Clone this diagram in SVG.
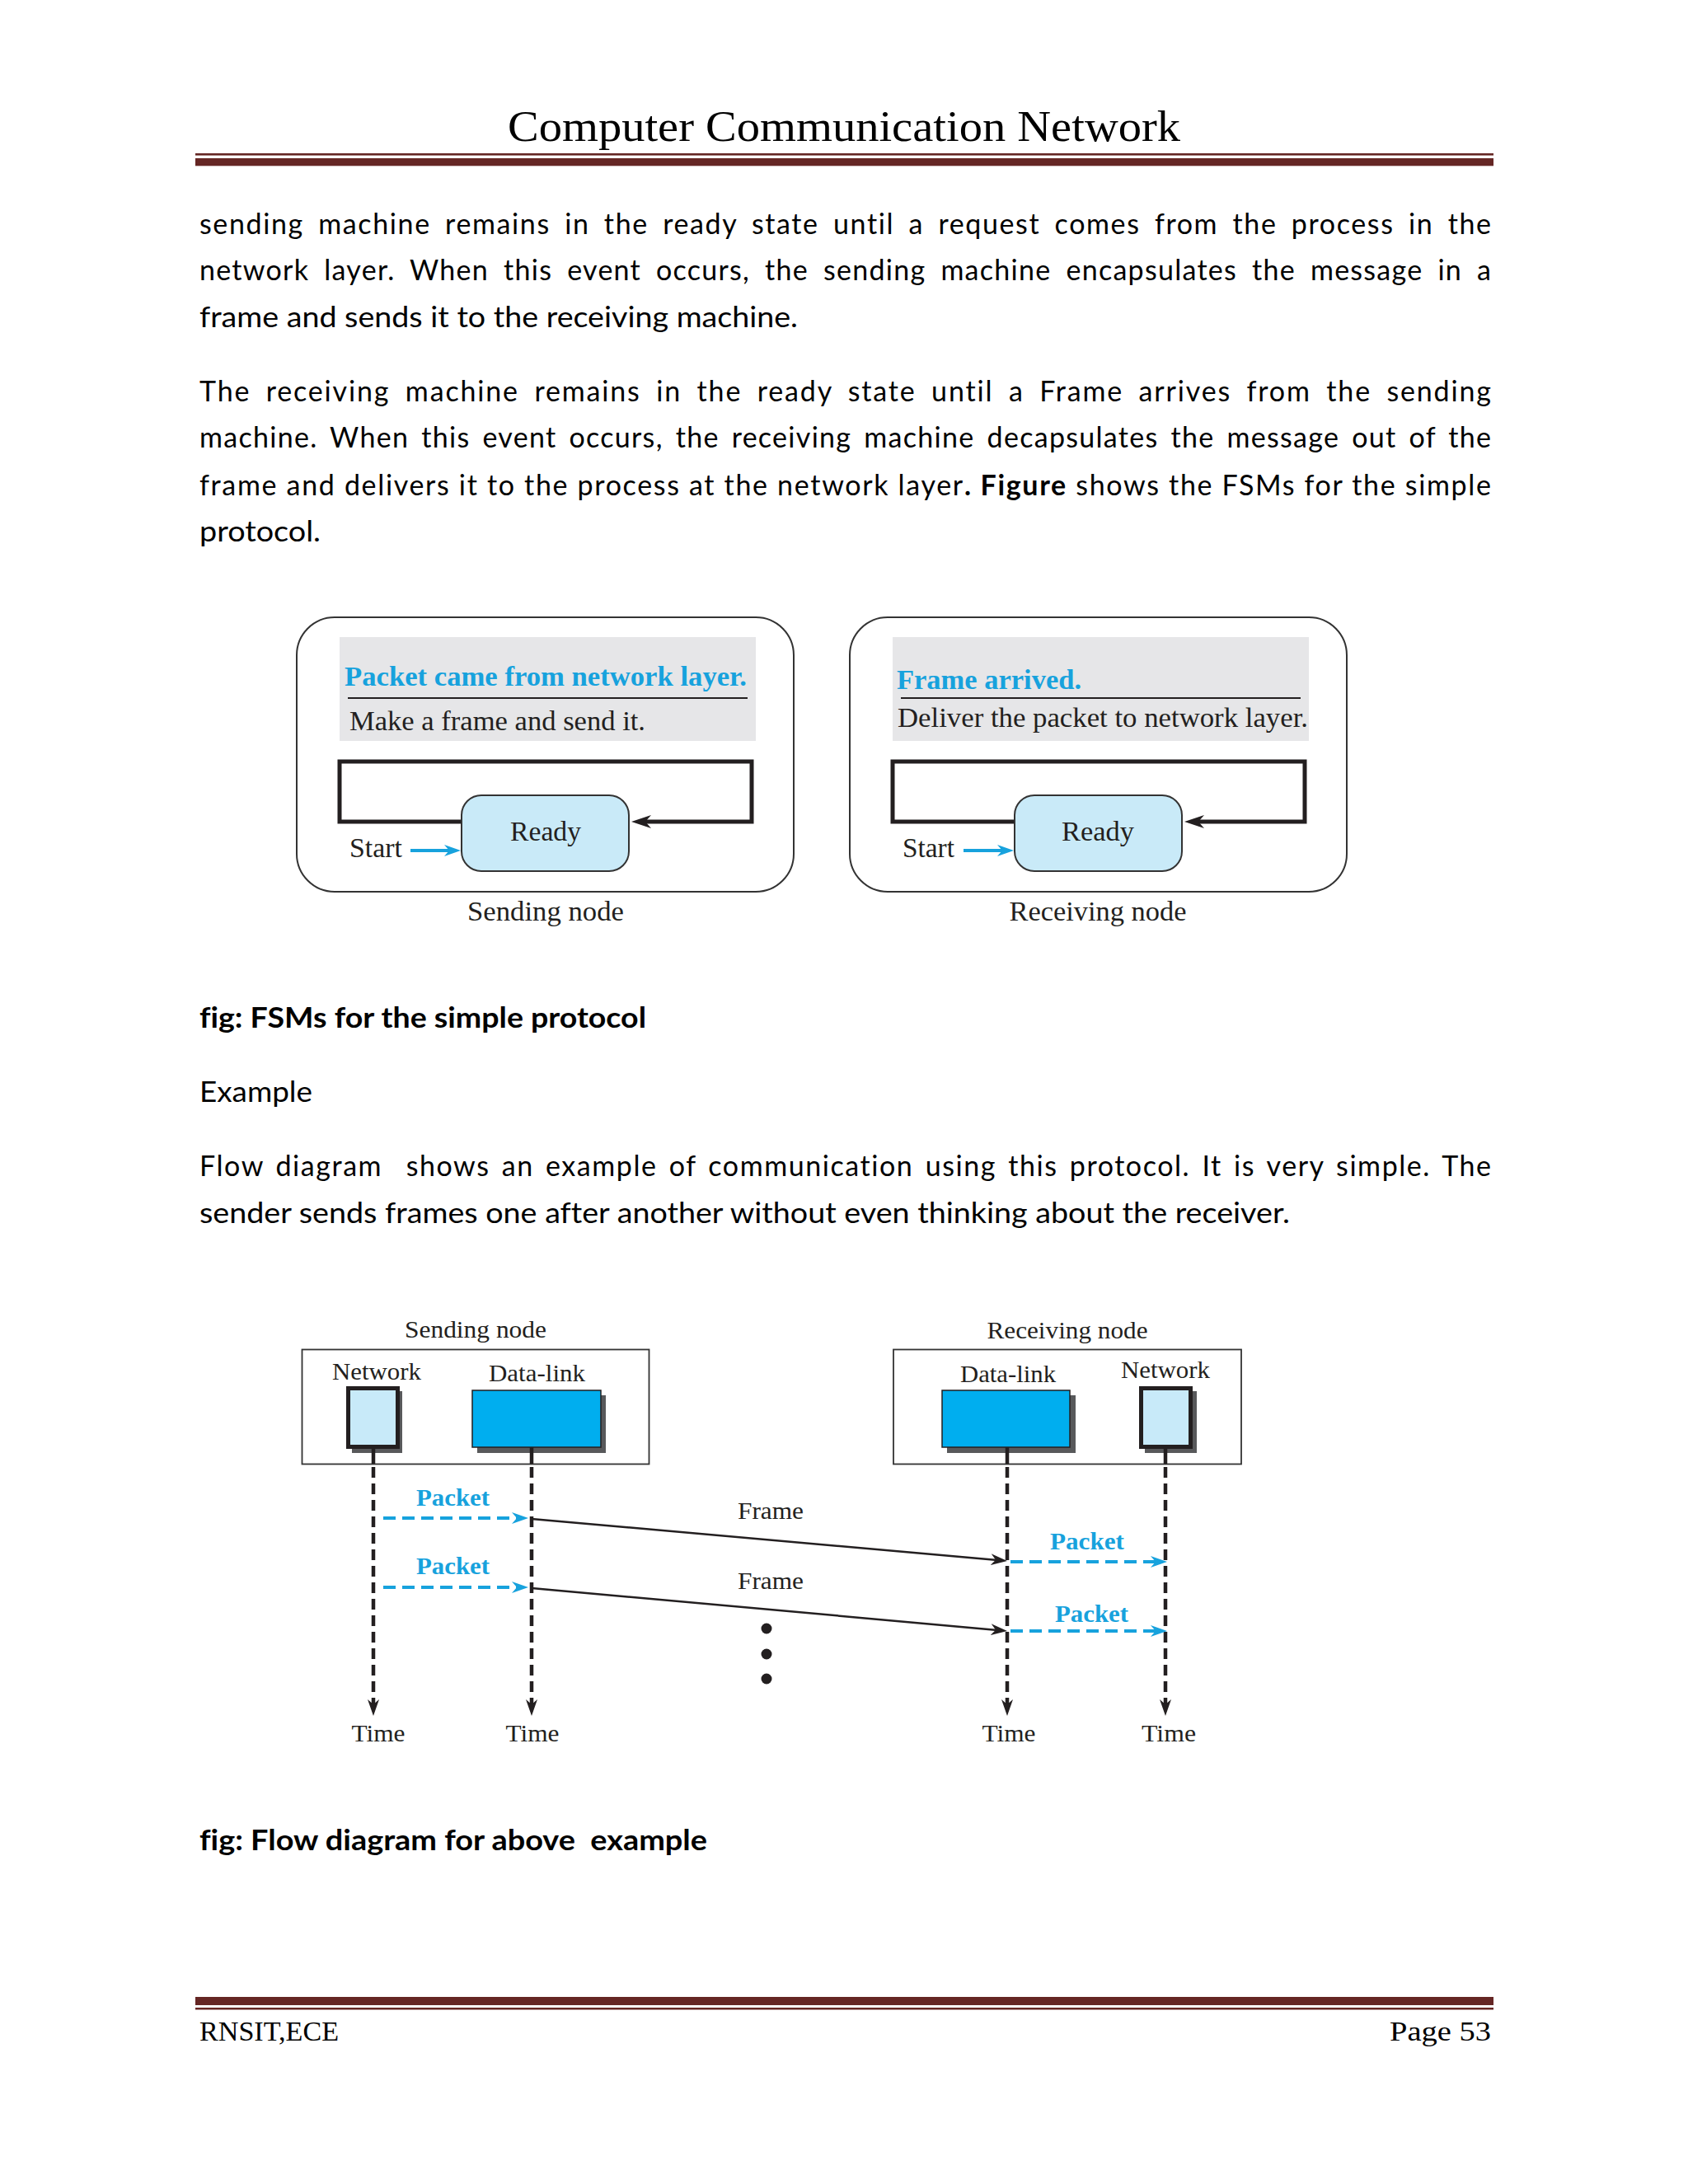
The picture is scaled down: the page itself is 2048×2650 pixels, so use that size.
<svg xmlns="http://www.w3.org/2000/svg" width="2048" height="2650" viewBox="0 0 2048 2650">
<style>
.body{font-family:Lato,"Liberation Sans",sans-serif;font-size:34px;fill:#000;font-variant-ligatures:none;font-feature-settings:"liga" 0}
.b{font-weight:700}
.serif{font-family:"Liberation Serif","Times New Roman",serif;fill:#000}
.fig{font-family:"Liberation Serif","Times New Roman",serif;fill:#231f20}
.fsm{font-size:33px}
.flow{font-size:30px}
.blue{fill:#17a2dd;font-weight:700}
.rule{fill:#652624}
.box{fill:none;stroke:#333;stroke-width:1.8}
.shadow{fill:#58595b}
.net{fill:#c8eaf9;stroke:#231f20;stroke-width:5}
.dl{fill:#00aeef;stroke:#231f20;stroke-width:1.5}
.life{stroke:#231f20;stroke-width:4.5;fill:none}
.dash{stroke-dasharray:13 7}
.pkt{stroke:#17a2dd;stroke-width:4;fill:none;stroke-dasharray:15 8}
.frm{stroke:#231f20;stroke-width:2.5;fill:none}
</style>
<defs>
<marker id="ahK" markerUnits="userSpaceOnUse" viewBox="0 0 20 14" refX="8" refY="7" markerWidth="20" markerHeight="14" orient="auto"><path d="M0,0 L20,7 L0,14 L6,7 Z" fill="#231f20"/></marker>
<marker id="ahB" markerUnits="userSpaceOnUse" viewBox="0 0 20 14" refX="8" refY="7" markerWidth="20" markerHeight="14" orient="auto"><path d="M0,0 L20,7 L0,14 L6,7 Z" fill="#17a2dd"/></marker>
<marker id="ahL" markerUnits="userSpaceOnUse" viewBox="0 0 24 16" refX="9" refY="8" markerWidth="24" markerHeight="16" orient="auto"><path d="M0,0 L24,8 L0,16 L7,8 Z" fill="#231f20"/></marker>
</defs>
<rect width="2048" height="2650" fill="#fff"/>

<g id="header">
<text class="serif" x="1024" y="171" font-size="53" text-anchor="middle" textLength="816" lengthAdjust="spacingAndGlyphs">Computer Communication Network</text>
<rect class="rule" x="237" y="186" width="1575" height="2.6"/>
<rect class="rule" x="237" y="192" width="1575" height="9.3"/>
</g>

<g id="body-text" class="body">
<text x="242" y="284" word-spacing="7" textLength="1567" lengthAdjust="spacing">sending machine remains in the ready state until a request comes from the process in the</text>
<text x="242" y="340" word-spacing="8" textLength="1567" lengthAdjust="spacing">network layer. When this event occurs, the sending machine encapsulates the message in a</text>
<text x="242" y="397" textLength="726" lengthAdjust="spacingAndGlyphs">frame and sends it to the receiving machine.</text>
<text x="242" y="487" word-spacing="8" textLength="1567" lengthAdjust="spacing">The receiving machine remains in the ready state until a Frame arrives from the sending</text>
<text x="242" y="543" word-spacing="5" textLength="1567" lengthAdjust="spacing">machine. When this event occurs, the receiving machine decapsulates the message out of the</text>
<text x="242" y="601" textLength="1567" lengthAdjust="spacing">frame and delivers it to the process at the network layer<tspan class="b">. Figure</tspan> shows the FSMs for the simple</text>
<text x="242" y="657" textLength="147" lengthAdjust="spacingAndGlyphs">protocol.</text>
<text class="b" x="242" y="1247" textLength="542" lengthAdjust="spacingAndGlyphs">fig: FSMs for the simple protocol</text>
<text x="242" y="1337" textLength="137" lengthAdjust="spacingAndGlyphs">Example</text>
<text x="242" y="1427" word-spacing="4" textLength="1567" lengthAdjust="spacing" style="white-space:pre">Flow diagram  shows an example of communication using this protocol. It is very simple. The</text>
<text x="242" y="1484" textLength="1323" lengthAdjust="spacingAndGlyphs">sender sends frames one after another without even thinking about the receiver.</text>
<text class="b" x="242" y="2245" textLength="616" lengthAdjust="spacingAndGlyphs" style="white-space:pre">fig: Flow diagram for above  example</text>
</g>

<!-- FSM: sending node -->
<g id="fsm-sending">
<rect x="360" y="749" width="603" height="333" rx="46" fill="#fff" stroke="#333" stroke-width="2"/>
<text class="fig fsm" x="662" y="1117" text-anchor="middle" textLength="190" lengthAdjust="spacingAndGlyphs">Sending node</text>
</g>
<g id="fsm-sending-event">
<rect x="412" y="773" width="505" height="126" fill="#e6e6e8"/>
<text class="fig fsm blue" x="418" y="832" textLength="488" lengthAdjust="spacingAndGlyphs">Packet came from network layer.</text>
<line x1="422" y1="847" x2="907" y2="847" stroke="#231f20" stroke-width="2"/>
<text class="fig fsm" x="424" y="886" textLength="359" lengthAdjust="spacingAndGlyphs">Make a frame and send it.</text>
</g>

<!-- FSM: receiving node -->
<g id="fsm-receiving">
<rect x="1031" y="749" width="603" height="333" rx="46" fill="#fff" stroke="#333" stroke-width="2"/>
<text class="fig fsm" x="1332" y="1117" text-anchor="middle" textLength="215" lengthAdjust="spacingAndGlyphs">Receiving node</text>
</g>
<g id="fsm-receiving-event">
<rect x="1083" y="773" width="505" height="126" fill="#e6e6e8"/>
<text class="fig fsm blue" x="1088" y="836" textLength="224" lengthAdjust="spacingAndGlyphs">Frame arrived.</text>
<line x1="1093" y1="847" x2="1578" y2="847" stroke="#231f20" stroke-width="2"/>
<text class="fig fsm" x="1089" y="882" textLength="498" lengthAdjust="spacingAndGlyphs">Deliver the packet to network layer.</text>
</g>

<!-- FSM connectors -->
<g id="fsm-connectors">
<path d="M560,997 H412 V924 H912 V997 H781" fill="none" stroke="#231f20" stroke-width="5" marker-end="url(#ahL)"/>
<path d="M498,1032 H547" fill="none" stroke="#17a2dd" stroke-width="4" marker-end="url(#ahB)"/>
<path d="M1231,997 H1083 V924 H1583 V997 H1452" fill="none" stroke="#231f20" stroke-width="5" marker-end="url(#ahL)"/>
<path d="M1169,1032 H1218" fill="none" stroke="#17a2dd" stroke-width="4" marker-end="url(#ahB)"/>
</g>

<g id="ready-sending">
<rect x="560" y="965" width="203" height="92" rx="24" fill="#c9eaf8" stroke="#333" stroke-width="2"/>
<text class="fig fsm" x="662" y="1020" text-anchor="middle" textLength="86" lengthAdjust="spacingAndGlyphs">Ready</text>
</g>
<g id="start-sending">
<text class="fig fsm" x="424" y="1040" textLength="64" lengthAdjust="spacingAndGlyphs">Start</text>
</g>
<g id="ready-receiving">
<rect x="1231" y="965" width="203" height="92" rx="24" fill="#c9eaf8" stroke="#333" stroke-width="2"/>
<text class="fig fsm" x="1332" y="1020" text-anchor="middle" textLength="88" lengthAdjust="spacingAndGlyphs">Ready</text>
</g>
<g id="start-receiving">
<text class="fig fsm" x="1095" y="1040" textLength="63" lengthAdjust="spacingAndGlyphs">Start</text>
</g>

<!-- Flow diagram nodes -->
<g id="flow-sending-node">
<text class="fig flow" x="577" y="1623" text-anchor="middle" textLength="172" lengthAdjust="spacingAndGlyphs">Sending node</text>
<rect class="box" x="366.5" y="1637.5" width="421" height="139"/>
</g>
<g id="flow-sending-network">
<text class="fig flow" x="403" y="1674" textLength="108" lengthAdjust="spacingAndGlyphs">Network</text>
<rect class="shadow" x="427" y="1688" width="61" height="75"/>
<rect class="net" x="422.5" y="1684.5" width="60" height="71"/>
</g>
<g id="flow-sending-datalink">
<text class="fig flow" x="593" y="1676" textLength="117" lengthAdjust="spacingAndGlyphs">Data-link</text>
<rect class="shadow" x="579" y="1693" width="156" height="70"/>
<rect class="dl" x="573" y="1687" width="156" height="69"/>
</g>
<g id="flow-receiving-node">
<text class="fig flow" x="1295" y="1624" text-anchor="middle" textLength="195" lengthAdjust="spacingAndGlyphs">Receiving node</text>
<rect class="box" x="1084" y="1637.5" width="422" height="139"/>
</g>
<g id="flow-receiving-datalink">
<text class="fig flow" x="1165" y="1677" textLength="116" lengthAdjust="spacingAndGlyphs">Data-link</text>
<rect class="shadow" x="1149" y="1693" width="156" height="70"/>
<rect class="dl" x="1143" y="1687" width="155" height="69"/>
</g>
<g id="flow-receiving-network">
<text class="fig flow" x="1360" y="1672" textLength="108" lengthAdjust="spacingAndGlyphs">Network</text>
<rect class="shadow" x="1389" y="1688" width="63" height="75"/>
<rect class="net" x="1384.5" y="1684.5" width="60" height="71"/>
</g>

<!-- Flow connectors -->
<g id="flow-connectors">
<path class="life" d="M453,1758 V1776"/>
<path class="life" d="M645,1756 V1776"/>
<path class="life" d="M1222,1756 V1776"/>
<path class="life" d="M1414,1758 V1776"/>
<path class="life dash" d="M453,1780 V2070" marker-end="url(#ahK)"/>
<path class="life dash" d="M645,1780 V2070" marker-end="url(#ahK)"/>
<path class="life dash" d="M1222,1780 V2070" marker-end="url(#ahK)"/>
<path class="life dash" d="M1414,1780 V2070" marker-end="url(#ahK)"/>
<path class="pkt" d="M465,1842 H629" marker-end="url(#ahB)"/>
<path class="pkt" d="M465,1926 H629" marker-end="url(#ahB)"/>
<path class="frm" d="M645,1843 L1210.05,1892.94" marker-end="url(#ahK)"/>
<path class="frm" d="M645,1927 L1210.05,1977.92" marker-end="url(#ahK)"/>
<path class="pkt" d="M1226,1895 H1404" marker-end="url(#ahB)"/>
<path class="pkt" d="M1226,1979 H1404" marker-end="url(#ahB)"/>
</g>

<g id="flow-labels">
<text class="fig flow blue" x="505" y="1827" textLength="89" lengthAdjust="spacingAndGlyphs">Packet</text>
<text class="fig flow blue" x="505" y="1910" textLength="89" lengthAdjust="spacingAndGlyphs">Packet</text>
<text class="fig flow" x="895" y="1843" textLength="80" lengthAdjust="spacingAndGlyphs">Frame</text>
<text class="fig flow" x="895" y="1928" textLength="80" lengthAdjust="spacingAndGlyphs">Frame</text>
<text class="fig flow blue" x="1274" y="1880" textLength="90" lengthAdjust="spacingAndGlyphs">Packet</text>
<text class="fig flow blue" x="1280" y="1968" textLength="89" lengthAdjust="spacingAndGlyphs">Packet</text>
<circle cx="930" cy="1976" r="6.5" fill="#231f20"/>
<circle cx="930" cy="2007" r="6.5" fill="#231f20"/>
<circle cx="930" cy="2037" r="6.5" fill="#231f20"/>
<text class="fig flow" x="459" y="2113" text-anchor="middle" textLength="65" lengthAdjust="spacingAndGlyphs">Time</text>
<text class="fig flow" x="646" y="2113" text-anchor="middle" textLength="65" lengthAdjust="spacingAndGlyphs">Time</text>
<text class="fig flow" x="1224" y="2113" text-anchor="middle" textLength="65" lengthAdjust="spacingAndGlyphs">Time</text>
<text class="fig flow" x="1418" y="2113" text-anchor="middle" textLength="66" lengthAdjust="spacingAndGlyphs">Time</text>
</g>

<g id="footer">
<rect class="rule" x="237" y="2423" width="1575" height="10"/>
<rect class="rule" x="237" y="2436" width="1575" height="2.5"/>
<text class="serif" x="242" y="2476" font-size="34" textLength="169" lengthAdjust="spacingAndGlyphs">RNSIT,ECE</text>
<text class="serif" x="1809" y="2476" font-size="34" text-anchor="end" textLength="123" lengthAdjust="spacingAndGlyphs">Page 53</text>
</g>
</svg>
